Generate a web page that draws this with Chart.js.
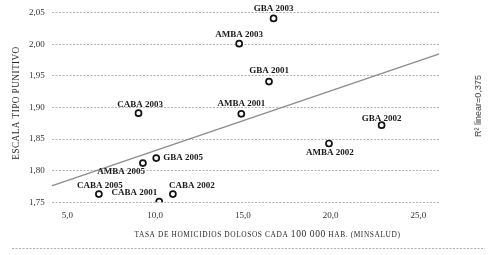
<!DOCTYPE html>
<html><head><meta charset="utf-8">
<script src="https://cdn.jsdelivr.net/npm/chart.js@4/dist/chart.umd.min.js"></script>
<style>html,body{margin:0;padding:0;background:#fff;}#wrap{width:492px;height:255px;}</style>
</head><body><div id="wrap"><canvas id="c" width="492" height="255"></canvas></div>
<script>
const names = ['GBA 2003','AMBA 2003','GBA 2001','AMBA 2001','CABA 2003','GBA 2002','AMBA 2002','GBA 2005','AMBA 2005','CABA 2005','CABA 2001','CABA 2002'];
const homicideRate = [16.75,14.79,16.49,14.91,9.05,22.91,19.91,10.06,9.30,6.79,10.23,11.01];
const punitiveScale = [2.041,2.001,1.941,1.890,1.891,1.872,1.843,1.820,1.812,1.763,1.751,1.763];
const trendX = [4.1,26.2];
const trendY = [1.776,1.985];
const xTicks = [5,10,15,20,25];
const yTicks = [1.75,1.80,1.85,1.90,1.95,2.00,2.05];
const xTitleParts = ['TASA DE HOMICIDIOS DOLOSOS CADA ','100 000',' HAB. (MINSALUD)'];
const yTitle = 'ESCALA TIPO PUNITIVO';
const r2Label = 'R\u00b2 linear=0,375';

// label placement (style): [dx, dy, align]
const placement = {
 'GBA 2003':[0,-10,'center'],'AMBA 2003':[0,-8.5,'center'],'GBA 2001':[0,-10.5,'center'],
 'AMBA 2001':[0,-10.5,'center'],'CABA 2003':[1.5,-9,'center'],'GBA 2002':[0,-6.5,'center'],
 'AMBA 2002':[1,9.5,'center'],'GBA 2005':[7,0,'left'],'AMBA 2005':[2,8.5,'right'],
 'CABA 2005':[1,-8.5,'center'],'CABA 2001':[-2,-8.5,'right'],'CABA 2002':[-4,-8,'left']
};

const SERIF = '"Liberation Serif", "DejaVu Serif", serif';

const decor = {
  id:'decor',
  afterDatasetsDraw(chart){
    const ctx = chart.ctx;
    const meta = chart.getDatasetMeta(1);
    ctx.save();
    ctx.fillStyle = '#1a1a1a';
    ctx.font = 'bold 9px ' + SERIF;
    ctx.textBaseline = 'middle';
    meta.data.forEach((el,i)=>{
      const p = placement[names[i]];
      ctx.textAlign = p[2];
      ctx.fillText(names[i], el.x + p[0], el.y + p[1]);
    });
    ctx.restore();
  },
  afterDraw(chart){
    const ctx = chart.ctx;
    ctx.save();
    // x title in pseudo small caps
    ctx.fillStyle = '#2a2a2a';
    ctx.textBaseline = 'alphabetic';
    ctx.textAlign = 'left';
    const fonts = ['7.4px '+SERIF, '9.5px '+SERIF, '7.4px '+SERIF];
    ctx.letterSpacing = '0.6px';
    let widths = xTitleParts.map((t,i)=>{ctx.font = fonts[i]; return ctx.measureText(t).width;});
    let total = widths.reduce((a,b)=>a+b,0);
    let x = 267.5 - total/2;
    xTitleParts.forEach((t,i)=>{ctx.font = fonts[i]; ctx.fillText(t, x, 236.5); x += widths[i];});
    // y title
    ctx.save();
    ctx.translate(19, 103);
    ctx.rotate(-Math.PI/2);
    ctx.textAlign = 'center';
    ctx.letterSpacing = '0.4px';
    ctx.font = '9.3px '+SERIF;
    ctx.fillText(yTitle, 0, 0);
    ctx.restore();
    // R2 label
    ctx.save();
    ctx.translate(481, 106);
    ctx.rotate(-Math.PI/2);
    ctx.textAlign = 'center';
    ctx.letterSpacing = '0px';
    ctx.fillStyle = '#444';
    ctx.font = '9px "Liberation Sans", Arial, sans-serif';
    ctx.fillText(r2Label, 0, 0);
    ctx.restore();
    // bottom separator
    ctx.strokeStyle = '#999';
    ctx.lineWidth = 0.8;
    ctx.setLineDash([2,1.5]);
    ctx.beginPath();
    ctx.moveTo(12, 248.5); ctx.lineTo(485, 248.5);
    ctx.stroke();
    ctx.restore();
  }
};

new Chart(document.getElementById('c'), {
  type:'scatter',
  data:{
    datasets:[
      {type:'line', data: trendX.map((v,i)=>({x:v,y:trendY[i]})), borderColor:'#8c8c8c', borderWidth:1.3, pointRadius:0, fill:false, order:2},
      {data: homicideRate.map((v,i)=>({x:v,y:punitiveScale[i]})), pointRadius:3, pointHoverRadius:3, pointBorderWidth:1.7,
       pointBorderColor:'#111', pointBackgroundColor:'#fff', order:1}
    ]
  },
  options:{
    responsive:false, animation:false, devicePixelRatio:1,
    layout:{padding:{left:0,right:52.7,top:12.7,bottom:0}},
    plugins:{legend:{display:false}, tooltip:{enabled:false}},
    scales:{
      x:{type:'linear', min:4.1, max:26.2,
        afterBuildTicks(s){ s.ticks = xTicks.map(v=>({value:v})); },
        afterFit(s){ s.height = 52.7; },
        grid:{display:false, drawTicks:false}, border:{display:false},
        ticks:{padding:8, color:'#333', font:{family:SERIF, size:9}, callback:v=>v.toFixed(1).replace('.',',')}
      },
      y:{type:'linear', min:1.75, max:2.05,
        afterBuildTicks(s){ s.ticks = yTicks.map(v=>({value:v})); },
        afterFit(s){ s.width = 51.7; },
        grid:{color:'#a0a0a0', lineWidth:0.8, drawTicks:false},
        border:{display:false, dash:[2,1.5]},
        ticks:{padding:7, color:'#333', font:{family:SERIF, size:9}, callback:v=>v.toFixed(2).replace('.',',')}
      }
    }
  },
  plugins:[decor]
});
</script></body></html>
